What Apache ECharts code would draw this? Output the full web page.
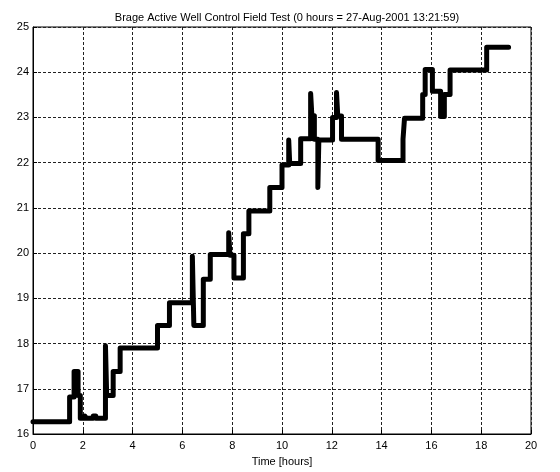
<!DOCTYPE html>
<html>
<head>
<meta charset="utf-8">
<script src="https://cdn.jsdelivr.net/npm/echarts@6/dist/echarts.min.js"></script>
<style>
  html, body { margin: 0; padding: 0; background: #fff; }
  #chart { width: 560px; height: 472px; }
</style>
</head>
<body>
<div id="chart"></div>
<script>
// Time (hours) at which each new level starts, and the level held from then on
const changeTimes = [
  0, 1.47, 1.65, 1.81, 1.90, 2.08, 2.14, 2.42, 2.52, 2.91, 2.96, 3.22, 3.50,
  5.00, 5.48, 6.40, 6.46, 6.84, 7.12, 7.86, 7.91, 8.07, 8.45, 8.67, 9.51,
  10.00, 10.27, 10.31, 10.75, 11.15, 11.20, 11.30, 11.44, 11.48, 12.03,
  12.19, 12.24, 12.39, 13.86, 14.86, 14.92, 15.65, 15.75, 16.04, 16.37,
  16.52, 16.75, 18.22, 19.10
];
const levels = [
  16.27, 16.82, 17.38, 16.85, 16.35, 16.40, 16.35, 16.40, 16.35, 17.95, 16.85, 17.38, 17.90,
  18.40, 18.90, 19.93, 18.40, 19.42, 19.97, 20.45, 19.95, 19.45, 20.43, 20.93, 21.45,
  21.95, 22.50, 21.98, 22.53, 23.53, 23.04, 22.52, 21.45, 22.50, 23.00,
  23.55, 23.03, 22.52, 22.05, 22.52, 22.98, 23.51, 24.06, 23.58, 23.02,
  23.51, 24.05, 24.55, 24.55
];
const xTicks = [0, 2, 4, 6, 8, 10, 12, 14, 16, 18, 20];
const yTicks = [16, 17, 18, 19, 20, 21, 22, 23, 24, 25];

const titleText = 'Brage Active Well Control Field Test (0 hours = 27-Aug-2001 13:21:59)';
const xName = 'Time [hours]';

const points = changeTimes.map((t, i) => [t, levels[i]]);
const font = 'Liberation Sans, Arial, sans-serif';

const chart = echarts.init(document.getElementById('chart'), null, { renderer: 'canvas' });
chart.setOption({
  animation: false,
  backgroundColor: '#fff',
  title: {
    text: titleText,
    left: 282, top: 7, textAlign: 'center',
    textStyle: { fontFamily: font, fontSize: 11, fontWeight: 'normal', color: '#000' }
  },
  grid: {
    left: 33, right: 29, top: 27, bottom: 35,
    show: true, borderColor: '#000', borderWidth: 1, backgroundColor: '#fff'
  },
  xAxis: {
    type: 'value', min: 0, max: 20, interval: 2,
    name: xName, nameLocation: 'middle', nameGap: 22,
    nameTextStyle: { fontFamily: font, fontSize: 11, color: '#000' },
    axisLine: { show: true, lineStyle: { color: '#000', width: 1 } },
    axisTick: { show: true, inside: true, length: 4, lineStyle: { color: '#000' } },
    axisLabel: { fontFamily: font, fontSize: 11, color: '#000', margin: 6,
      formatter: v => xTicks.includes(v) ? String(v) : '' },
    splitLine: { show: true, lineStyle: { color: '#222', width: 1, type: [3, 2] } }
  },
  yAxis: {
    type: 'value', min: 16, max: 25, interval: 1,
    axisLine: { show: true, lineStyle: { color: '#000', width: 1 } },
    axisTick: { show: true, inside: true, length: 4, lineStyle: { color: '#000' } },
    axisLabel: { fontFamily: font, fontSize: 11, color: '#000', margin: 4,
      formatter: v => yTicks.includes(v) ? String(v) : '' },
    splitLine: { show: true, lineStyle: { color: '#222', width: 1, type: [3, 2] } }
  },
  series: [{
    type: 'line',
    step: 'end',
    data: points,
    showSymbol: false,
    symbol: 'none',
    lineStyle: { color: '#000', width: 5, cap: 'round', join: 'round' },
    z: 3
  }]
});
</script>
</body>
</html>
